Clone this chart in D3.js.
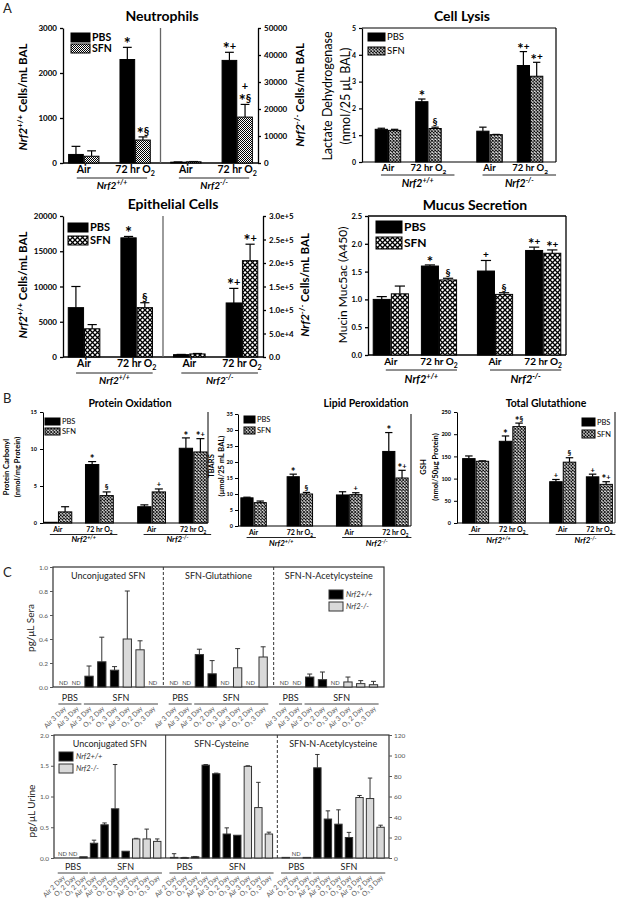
<!DOCTYPE html>
<html><head><meta charset="utf-8">
<script src="https://cdn.jsdelivr.net/npm/d3@7/dist/d3.min.js"></script>
<style>
html,body{margin:0;padding:0;background:#fff}
svg{display:block;font-family:Lato,'Open Sans','DejaVu Sans',sans-serif}
</style></head><body>
<svg id="fig" width="619" height="900"></svg>
<script>
// ================= DATA =================
const genotypes = ["Nrf2+/+", "Nrf2-/-"];
const exposures = ["Air", "72 hr O2"];
const treatments = ["PBS", "SFN"];
// each series ordered: [Nrf2+/+ Air, Nrf2+/+ O2, Nrf2-/- Air, Nrf2-/- O2]

const neutroPBS = [190, 2300, 300, 38000];
const neutroPBSErr = [370, 2570, 400, 41000];
const neutroSFN = [150, 510, 450, 17000];
const neutroSFNErr = [270, 580, 550, 21700];
const neutroAnnPBS = ["", "*", "", "*+"];
const neutroAnnSFN = ["", "*§", "", "+\n*§"];
const neutroTicksL = [0, 1000, 2000, 3000];
const neutroTicksR = [0, 10000, 20000, 30000, 40000, 50000];

const lysisPBS = [1.22, 2.25, 1.15, 3.6];
const lysisPBSErr = [1.26, 2.35, 1.3, 4.12];
const lysisSFN = [1.18, 1.25, 1.02, 3.2];
const lysisSFNErr = [1.22, 1.3, 1.03, 3.72];
const lysisAnnPBS = ["", "*", "", "*+"];
const lysisAnnSFN = ["", "§", "", "*+"];
const lysisTicks = [0, 1, 2, 3, 4, 5];

const epiPBS = [7000, 16900, 5000, 115000];
const epiPBSErr = [10000, 17100, 5500, 146000];
const epiSFN = [4000, 7000, 6500, 205000];
const epiSFNErr = [4600, 7700, 7500, 240000];
const epiAnnPBS = ["", "*", "", "*+"];
const epiAnnSFN = ["", "§", "", "*+"];
const epiTicksL = [0, 5000, 10000, 15000, 20000];
const epiTicksR = [0, 50000, 100000, 150000, 200000, 250000, 300000];

const mucusPBS = [1.0, 1.6, 1.51, 1.88];
const mucusPBSErr = [1.05, 1.62, 1.7, 1.94];
const mucusSFN = [1.1, 1.35, 1.09, 1.83];
const mucusSFNErr = [1.24, 1.38, 1.12, 1.89];
const mucusAnnPBS = ["", "*", "+", "*+"];
const mucusAnnSFN = ["", "§", "§", "*+"];
const mucusTicks = [0, 0.5, 1.0, 1.5, 2.0, 2.5];

const protPBS = [0.1, 7.9, 2.2, 10.1];
const protPBSErr = [0.1, 8.3, 2.45, 11.5];
const protSFN = [1.5, 3.7, 4.2, 9.6];
const protSFNErr = [2.2, 4.2, 4.6, 11.4];
const protAnnPBS = ["", "*", "", "*"];
const protAnnSFN = ["", "§", "+", "*+"];
const protTicks = [0, 5, 10, 15];

const lipidPBS = [8.8, 15.4, 9.7, 23.3];
const lipidPBSErr = [9.0, 16.2, 10.7, 29.2];
const lipidSFN = [7.3, 10.0, 9.8, 15.0];
const lipidSFNErr = [7.8, 10.5, 10.4, 17.4];
const lipidAnnPBS = ["", "*", "", "*"];
const lipidAnnSFN = ["", "§", "+", "*+"];
const lipidTicks = [0, 5, 10, 15, 20, 25, 30, 35];

const gshPBS = [145, 184, 93, 104];
const gshPBSErr = [151, 196, 98, 110];
const gshSFN = [139, 217, 137, 87];
const gshSFNErr = [140, 225, 147, 93];
const gshAnnPBS = ["", "*", "+", "+"];
const gshAnnSFN = ["", "*§", "§", "*+"];
const gshTicks = [0, 50, 100, 150, 200, 250];

// Panel C
const seraSubpanels = ["Unconjugated SFN", "SFN-Glutathione", "SFN-N-Acetylcysteine"];
const seraCategories = ["Air 3 Day", "Air 3 Day", "Air 3 Day", "O₂ 2 Day", "O₂ 3 Day", "Air 3 Day", "O₂ 2 Day", "O₂ 3 Day"];
const seraGenotype = ["Nrf2+/+", "Nrf2-/-", "Nrf2+/+", "Nrf2+/+", "Nrf2+/+", "Nrf2-/-", "Nrf2-/-", "Nrf2-/-"];
const seraTreatment = ["PBS", "PBS", "SFN", "SFN", "SFN", "SFN", "SFN", "SFN"];
const seraUnconj = [null, null, 0.09, 0.21, 0.14, 0.40, 0.31, null];
const seraUnconjErr = [null, null, 0.175, 0.415, 0.17, 0.80, 0.385, null];
const seraGSH = [null, null, 0.27, 0.11, null, 0.16, null, 0.25];
const seraGSHErr = [null, null, 0.315, 0.22, null, 0.32, null, 0.335];
const seraNAC = [null, null, 0.083, 0.061, null, 0.042, 0.028, 0.019];
const seraNACErr = [null, null, 0.108, 0.125, null, 0.083, 0.053, 0.047];
const seraTicks = [0, 0.2, 0.4, 0.6, 0.8, 1.0];

const urineSubpanels = ["Unconjugated SFN", "SFN-Cysteine", "SFN-N-Acetylcysteine"];
const urineCategories = ["Air 2 Day", "O₂ 2 Day", "O₂ 2 Day", "Air 2 Day", "Air 3 Day", "O₂ 2 Day", "O₂ 3 Day", "Air 3 Day", "O₂ 2 Day", "O₂ 3 Day"];
const urineGenotype = ["Nrf2+/+", "Nrf2+/+", "Nrf2+/+", "Nrf2+/+", "Nrf2+/+", "Nrf2+/+", "Nrf2+/+", "Nrf2-/-", "Nrf2-/-", "Nrf2-/-"];
const urineTreatment = ["PBS", "PBS", "PBS", "SFN", "SFN", "SFN", "SFN", "SFN", "SFN", "SFN"];
const urineUnconj = [null, null, 0.02, 0.24, 0.54, 0.80, 0.11, 0.31, 0.31, 0.27];
const urineUnconjErr = [null, null, 0.02, 0.29, 0.57, 1.52, 0.11, 0.32, 0.47, 0.31];
const urineCys = [0.01, 0.005, 0.02, 1.51, 1.37, 0.39, 0.37, 1.49, 0.82, 0.39];
const urineCysErr = [0.07, 0.01, 0.025, 1.52, 1.38, 0.49, 0.37, 1.50, 1.23, 0.42];
const urineNAC = [0.6, null, 0.6, 88, 38, 33, 20, 59, 58, 30];
const urineNACErr = [0.6, null, 0.6, 101, 46, 47, 25, 61, 78, 32];
const urineTicksL = [0, 0.5, 1.0, 1.5, 2.0];
const urineTicksR = [0, 20, 40, 60, 80, 100, 120];

// ================= DRAWING =================
const svg = d3.select("#fig");
const defs = svg.append("defs");

function makeHatch(id, s, sw) {
  const p = defs.append("pattern").attr("id", id).attr("patternUnits", "userSpaceOnUse")
    .attr("width", s).attr("height", s);
  p.append("rect").attr("width", s).attr("height", s).attr("fill", "#fff");
  p.append("path").attr("d", `M0,0L${s},${s}M${s},0L0,${s}`).attr("stroke", "#000").attr("stroke-width", sw);
}
function makeChecker(id) {
  const p = defs.append("pattern").attr("id", id).attr("patternUnits", "userSpaceOnUse")
    .attr("width", 2).attr("height", 2);
  p.append("rect").attr("width", 2).attr("height", 2).attr("fill", "#fff");
  p.append("rect").attr("width", 1).attr("height", 1).attr("fill", "#000");
  p.append("rect").attr("x", 1).attr("y", 1).attr("width", 1).attr("height", 1).attr("fill", "#000");
}
makeChecker("chk");
makeHatch("h5", 5, 1.3);
makeHatch("h3", 3.2, 0.9);

function rich(t, parts, fs) {
  let shift = 0;
  parts.forEach(p => {
    const s = t.append("tspan").text(p.t);
    const target = p.sup ? -fs * 0.38 : p.sub ? fs * 0.28 : 0;
    if (target !== shift) { s.attr("dy", target - shift); shift = target; }
    if (p.sup || p.sub) s.attr("font-size", fs * 0.68);
    if (p.italic) s.attr("font-style", "italic");
  });
  return t;
}
const genoParts = gn => [{ t: "Nrf2", italic: true }, { t: gn.slice(4), sup: true, italic: true }];
const expParts = ex => ex === "Air" ? [{ t: "Air" }] : [{ t: "72 hr O" }, { t: "2", sub: true }];

function styleAxis(ax, fs, sw, color, weight) {
  ax.select(".domain").attr("stroke", color).attr("stroke-width", sw);
  ax.selectAll(".tick line").attr("stroke", color).attr("stroke-width", sw);
  ax.selectAll(".tick text").attr("font-size", fs).attr("font-weight", weight).attr("fill", color)
    .attr("font-family", "Lato,'Open Sans',sans-serif");
}

function grouped(c) {
  const g = svg.append("g");
  const xG = d3.scaleBand().domain(genotypes).range([c.x0, c.x1]).paddingInner(c.gi).paddingOuter(c.go);
  const xE = d3.scaleBand().domain(exposures).range([0, xG.bandwidth()]).paddingInner(c.ei).paddingOuter(c.eo || 0);
  const xS = d3.scaleBand().domain(treatments).range([0, xE.bandwidth()]).paddingInner(c.si);
  const yL = d3.scaleLinear().domain(c.yL.domain).range([c.yBot, c.yTop]);
  const yR = c.yR ? d3.scaleLinear().domain(c.yR.domain).range([c.yBot, c.yTop]) : yL;
  const yFor = gi => (c.yR && gi === 1) ? yR : yL;
  const ax0 = c.axX0 !== undefined ? c.axX0 : c.x0, ax1 = c.axX1 !== undefined ? c.axX1 : c.x1;

  // frame
  g.append("line").attr("x1", ax0).attr("x2", ax1).attr("y1", c.yBot).attr("y2", c.yBot).attr("stroke", "#000").attr("stroke-width", c.sw);
  if (c.right) g.append("line").attr("x1", ax1).attr("x2", ax1).attr("y1", c.yTop).attr("y2", c.yBot).attr("stroke", "#000").attr("stroke-width", c.sw);
  if (c.top) g.append("line").attr("x1", ax0).attr("x2", ax1).attr("y1", c.yTop).attr("y2", c.yTop).attr("stroke", "#000").attr("stroke-width", c.sw);
  if (c.yR) {
    const dx = xG(genotypes[1]) - xG.step() * c.gi / 2;
    g.append("line").attr("x1", dx).attr("x2", dx).attr("y1", c.yTop).attr("y2", c.yBot).attr("stroke", "#666").attr("stroke-width", 1.3);
  }

  // axes
  const axL = g.append("g").attr("transform", `translate(${ax0},0)`)
    .call(d3.axisLeft(yL).tickValues(c.yL.ticks).tickFormat(c.yL.fmt).tickSize(3).tickSizeOuter(0).tickPadding(c.tickPad || 3));
  styleAxis(axL, c.tickFs, c.sw, "#000", "bold");
  if (c.yR) {
    const axR = g.append("g").attr("transform", `translate(${ax1},0)`)
      .call(d3.axisRight(yR).tickValues(c.yR.ticks).tickFormat(c.yR.fmt).tickSize(3).tickSizeOuter(0).tickPadding(3));
    styleAxis(axR, c.tickFs, c.sw, "#000", "bold");
  }

  // bars
  const values = [c.pbs, c.sfn], errors = [c.pbsErr, c.sfnErr], anns = [c.annP, c.annS];
  treatments.forEach((t, ti) => {
    genotypes.forEach((gn, gi) => exposures.forEach((ex, ei) => {
      const k = gi * 2 + ei, y = yFor(gi);
      const v = values[ti][k], e = errors[ti][k];
      const x = xG(gn) + xE(ex) + xS(t), w = xS.bandwidth(), cx = x + w / 2;
      if (e > v) {
        g.append("line").attr("x1", cx).attr("x2", cx).attr("y1", y(v)).attr("y2", y(e)).attr("stroke", "#000").attr("stroke-width", 1.2);
        g.append("line").attr("x1", cx - w * 0.3).attr("x2", cx + w * 0.3).attr("y1", y(e)).attr("y2", y(e)).attr("stroke", "#000").attr("stroke-width", 1.2);
      }
      g.append("rect").attr("x", x).attr("y", y(v)).attr("width", w).attr("height", y(0) - y(v))
        .attr("fill", ti === 0 ? "#000" : `url(#${c.pattern})`).attr("stroke", "#000").attr("stroke-width", 1);
      const a = anns[ti][k];
      if (a) {
        const lines = a.split("\n").reverse();
        lines.forEach((ln, li) => {
          const tx = g.append("text").attr("x", cx).attr("y", y(Math.max(e, v)) - c.annGap - li * c.annLH)
            .attr("text-anchor", "middle").attr("font-weight", "bold").attr("font-size", c.annFs).attr("fill", "#000");
          let shift = 0;
          [...ln].forEach(ch => {
            const s = tx.append("tspan").text(ch);
            const target = ch === "*" ? c.annFs * 0.42 : 0;
            if (target !== shift) { s.attr("dy", target - shift); shift = target; }
            if (ch === "*") s.attr("font-size", c.annFs * 1.5);
          });
        });
      }
    }));
  });

  // x labels
  genotypes.forEach(gn => {
    const cA = xG(gn) + xE("Air") + xE.bandwidth() / 2;
    const cO = xG(gn) + xE(exposures[1]) + xE.bandwidth() / 2;
    exposures.forEach((ex, ei) => {
      const t = g.append("text").attr("x", ei === 0 ? cA : cO).attr("y", c.airY)
        .attr("text-anchor", "middle").attr("font-weight", "bold").attr("font-size", c.labFs);
      rich(t, expParts(ex), c.labFs);
    });
    const l0 = cA - c.ulL, l1 = cO + c.ulR;
    g.append("line").attr("x1", l0).attr("x2", l1).attr("y1", c.lineY).attr("y2", c.lineY).attr("stroke", "#222").attr("stroke-width", 1);
    const t = g.append("text").attr("x", (l0 + l1) / 2).attr("y", c.genoY)
      .attr("text-anchor", "middle").attr("font-weight", "bold").attr("font-size", c.genoFs);
    rich(t, genoParts(gn), c.genoFs);
  });

  // legend
  treatments.forEach((t, ti) => {
    const ly = c.leg.y + ti * c.leg.gap;
    g.append("rect").attr("x", c.leg.x).attr("y", ly).attr("width", c.leg.w).attr("height", c.leg.h)
      .attr("fill", ti === 0 ? "#000" : `url(#${c.pattern})`).attr("stroke", "#000").attr("stroke-width", 1);
    g.append("text").attr("x", c.leg.x + c.leg.w + 2).attr("y", ly + c.leg.h / 2).attr("dy", "0.35em")
      .attr("font-size", c.leg.fs).attr("font-weight", c.leg.weight).text(t);
  });

  // title
  g.append("text").attr("x", c.title.x).attr("y", c.title.y).attr("text-anchor", "middle")
    .attr("font-weight", "bold").attr("font-size", c.title.fs).text(c.title.t);

  // y labels
  c.ylabels.forEach(yl => {
    const t = g.append("text").attr("transform", `translate(${yl.x},${yl.y}) rotate(-90)`)
      .attr("text-anchor", "middle").attr("font-weight", yl.weight).attr("font-size", yl.fs);
    rich(t, yl.parts, yl.fs);
  });
}

const fmtSci = v => v === 0 ? "0.0" : (() => { const e = Math.floor(Math.log10(v)); return (v / Math.pow(10, e)).toFixed(1) + "e+" + e; })();

// ---------- Panel A ----------
grouped({
  x0: 63, x1: 258, yTop: 28, yBot: 163, gi: 0.2, go: 0.055, ei: 0.41, si: 0.06, sw: 1.3,
  yL: { domain: [0, 3000], ticks: neutroTicksL, fmt: d3.format("d") },
  yR: { domain: [0, 50000], ticks: neutroTicksR, fmt: d3.format("d") },
  tickFs: 8, pattern: "chk",
  pbs: neutroPBS, pbsErr: neutroPBSErr, sfn: neutroSFN, sfnErr: neutroSFNErr, annP: neutroAnnPBS, annS: neutroAnnSFN,
  annFs: 11, annGap: 2, annLH: 12,
  airY: 173, lineY: 178, genoY: 189, labFs: 10.5, genoFs: 10, ulL: 7, ulR: 12,
  leg: { x: 71, y: 33, w: 19, h: 9, gap: 11, fs: 10.5, weight: "bold" },
  title: { t: "Neutrophils", x: 162, y: 21, fs: 14 },
  ylabels: [
    { x: 27, y: 97, fs: 11.5, weight: "bold", parts: [{ t: "Nrf2", italic: true }, { t: "+/+", sup: true }, { t: " Cells/mL BAL" }] },
    { x: 304, y: 95, fs: 11.5, weight: "bold", parts: [{ t: "Nrf2", italic: true }, { t: "-/-", sup: true }, { t: " Cells/mL BAL" }] }
  ]
});

grouped({
  x0: 362, x1: 556, yTop: 28, yBot: 162, gi: 0.35, go: 0.13, ei: 0.37, si: 0.08, sw: 1.2, right: true, top: true,
  yL: { domain: [0, 5], ticks: lysisTicks, fmt: d3.format("d") },
  tickFs: 7, pattern: "h3",
  pbs: lysisPBS, pbsErr: lysisPBSErr, sfn: lysisSFN, sfnErr: lysisSFNErr, annP: lysisAnnPBS, annS: lysisAnnSFN,
  annFs: 10, annGap: 2, annLH: 10,
  airY: 171, lineY: 175, genoY: 187, labFs: 9.5, genoFs: 10.5, ulL: 7, ulR: 26,
  leg: { x: 368, y: 33, w: 17, h: 8, gap: 14, fs: 9.5, weight: "normal" },
  title: { t: "Cell Lysis", x: 462, y: 21, fs: 14 },
  ylabels: [
    { x: 332, y: 96, fs: 12.5, weight: "normal", parts: [{ t: "Lactate Dehydrogenase" }] },
    { x: 350, y: 96, fs: 12.5, weight: "normal", parts: [{ t: "(nmol/25 μL BAL)" }] }
  ]
});

grouped({
  x0: 63, x1: 263, yTop: 216, yBot: 357, gi: 0.2, go: 0.05, ei: 0.4, si: 0.06, sw: 1.3,
  yL: { domain: [0, 20000], ticks: epiTicksL, fmt: d3.format("d") },
  yR: { domain: [0, 300000], ticks: epiTicksR, fmt: fmtSci },
  tickFs: 8, pattern: "h5",
  pbs: epiPBS, pbsErr: epiPBSErr, sfn: epiSFN, sfnErr: epiSFNErr, annP: epiAnnPBS, annS: epiAnnSFN,
  annFs: 11, annGap: 2, annLH: 10,
  airY: 367, lineY: 373, genoY: 384, labFs: 10.5, genoFs: 10, ulL: 8, ulR: 16,
  leg: { x: 68, y: 223, w: 20, h: 9, gap: 13, fs: 11, weight: "bold" },
  title: { t: "Epithelial Cells", x: 173, y: 209, fs: 14 },
  ylabels: [
    { x: 27, y: 285, fs: 11.5, weight: "bold", parts: [{ t: "Nrf2", italic: true }, { t: "+/+", sup: true }, { t: " Cells/mL BAL" }] },
    { x: 309, y: 285, fs: 11.5, weight: "bold", parts: [{ t: "Nrf2", italic: true }, { t: "-/-", sup: true }, { t: " Cells/mL BAL" }] }
  ]
});

grouped({
  x0: 368, x1: 566, yTop: 216, yBot: 355, gi: 0.2, go: 0.05, ei: 0.27, si: 0.06, sw: 1.3, right: true, top: true,
  yL: { domain: [0, 2.5], ticks: mucusTicks, fmt: d3.format(".1f") },
  tickFs: 7.5, pattern: "h5",
  pbs: mucusPBS, pbsErr: mucusPBSErr, sfn: mucusSFN, sfnErr: mucusSFNErr, annP: mucusAnnPBS, annS: mucusAnnSFN,
  annFs: 10, annGap: 2, annLH: 10,
  airY: 365, lineY: 370, genoY: 383, labFs: 10, genoFs: 11, ulL: 5, ulR: 18,
  leg: { x: 376, y: 221, w: 26, h: 12, gap: 16, fs: 12, weight: "bold" },
  title: { t: "Mucus Secretion", x: 475, y: 210, fs: 14 },
  ylabels: [
    { x: 347, y: 285, fs: 12, weight: "normal", parts: [{ t: "Mucin Muc5ac (A450)" }] }
  ]
});

// ---------- Panel B ----------
grouped({
  x0: 43, x1: 208, yTop: 412, yBot: 523, gi: 0.26, go: 0.01, ei: 0.33, si: 0.08, sw: 1, right: true,
  yL: { domain: [0, 15], ticks: protTicks, fmt: d3.format("d") },
  tickFs: 5.5, pattern: "h3",
  pbs: protPBS, pbsErr: protPBSErr, sfn: protSFN, sfnErr: protSFNErr, annP: protAnnPBS, annS: protAnnSFN,
  annFs: 7.5, annGap: 1.5, annLH: 8,
  airY: 532, lineY: 534.5, genoY: 542, labFs: 7, genoFs: 8, ulL: 8, ulR: 18,
  leg: { x: 45, y: 418, w: 15, h: 7, gap: 10, fs: 7.5, weight: "normal" },
  title: { t: "Protein Oxidation", x: 130, y: 407, fs: 10.5 },
  ylabels: [
    { x: 9, y: 467, fs: 7.5, weight: "bold", parts: [{ t: "Protein Carbonyl" }] },
    { x: 20, y: 467, fs: 7.5, weight: "bold", parts: [{ t: "(nmol/mg Protein)" }] }
  ]
});

grouped({
  x0: 238, x1: 411, yTop: 414, yBot: 526, gi: 0.25, go: 0.03, ei: 0.45, si: 0.08, sw: 1, right: true, tickPad: 2,
  yL: { domain: [0, 35], ticks: lipidTicks, fmt: d3.format("d") },
  tickFs: 5.5, pattern: "h3",
  pbs: lipidPBS, pbsErr: lipidPBSErr, sfn: lipidSFN, sfnErr: lipidSFNErr, annP: lipidAnnPBS, annS: lipidAnnSFN,
  annFs: 7.5, annGap: 1.5, annLH: 8,
  airY: 535, lineY: 537.5, genoY: 546, labFs: 7, genoFs: 8, ulL: 7, ulR: 16,
  leg: { x: 244, y: 416, w: 11, h: 7, gap: 11, fs: 7.5, weight: "normal" },
  title: { t: "Lipid Peroxidation", x: 366, y: 407, fs: 10.5 },
  ylabels: [
    { x: 214, y: 466, fs: 7.5, weight: "bold", parts: [{ t: "TBARS" }] },
    { x: 224, y: 466, fs: 7.5, weight: "bold", parts: [{ t: "(μmol/25 mL BAL)" }] }
  ]
});

grouped({
  x0: 460, x1: 615, axX0: 457, yTop: 412, yBot: 523, gi: 0.28, go: 0.03, ei: 0.29, si: 0.08, sw: 1, right: true,
  yL: { domain: [0, 250], ticks: gshTicks, fmt: d3.format("d") },
  tickFs: 5.5, pattern: "h3",
  pbs: gshPBS, pbsErr: gshPBSErr, sfn: gshSFN, sfnErr: gshSFNErr, annP: gshAnnPBS, annS: gshAnnSFN,
  annFs: 7.5, annGap: 1.5, annLH: 8,
  airY: 532, lineY: 534.5, genoY: 543, labFs: 7, genoFs: 8, ulL: 7, ulR: 16,
  leg: { x: 582, y: 418, w: 13, h: 8, gap: 12, fs: 7.5, weight: "normal" },
  title: { t: "Total Glutathione", x: 546, y: 407, fs: 10.5 },
  ylabels: [
    { x: 426, y: 467, fs: 7.5, weight: "bold", parts: [{ t: "GSH" }] },
    { x: 438, y: 467, fs: 7.5, weight: "bold", parts: [{ t: "(nmol/50μg Protein)" }] }
  ]
});

// ---------- Panel C ----------
function panelC(c) {
  const g = svg.append("g");
  const xP = d3.scaleBand().domain(c.subs).range([c.x0, c.x1]);
  const xC = d3.scaleBand().domain(d3.range(c.cats.length)).range([0, xP.bandwidth()]).paddingInner(c.pi).paddingOuter(c.po);
  const yL = d3.scaleLinear().domain(c.yDomain).range([c.yBot, c.yTop]);
  const yR = c.yRDomain ? d3.scaleLinear().domain(c.yRDomain).range([c.yBot, c.yTop]) : null;

  g.append("rect").attr("x", c.x0).attr("y", c.yTop).attr("width", c.x1 - c.x0).attr("height", c.yBot - c.yTop)
    .attr("fill", "none").attr("stroke", "#333").attr("stroke-width", 1.2);
  c.subs.slice(1).forEach((s, i) => {
    g.append("line").attr("x1", xP(s)).attr("x2", xP(s)).attr("y1", c.yTop).attr("y2", c.yBot)
      .attr("stroke", "#333").attr("stroke-width", 1).attr("stroke-dasharray", c.dash[i] ? "3,2" : null);
  });
  const axL = g.append("g").attr("transform", `translate(${c.x0},0)`)
    .call(d3.axisLeft(yL).tickValues(c.ticks).tickFormat(d3.format(".1f")).tickSize(3).tickSizeOuter(0).tickPadding(2));
  styleAxis(axL, 6.5, 1, "#555", "normal");
  axL.select(".domain").remove();
  if (yR) {
    const axR = g.append("g").attr("transform", `translate(${c.x1},0)`)
      .call(d3.axisRight(yR).tickValues(c.ticksR).tickFormat(d3.format("d")).tickSize(3).tickSizeOuter(0).tickPadding(2));
    styleAxis(axR, 6.5, 1, "#555", "normal");
    axR.select(".domain").remove();
  }

  c.subs.forEach((s, si) => {
    const y = (yR && si === c.rightSub) ? yR : yL;
    const vals = c.values[si], errs = c.errors[si];
    g.append("text").attr("x", xP(s) + xP.bandwidth() / 2).attr("y", c.yTop + 12).attr("text-anchor", "middle")
      .attr("font-size", 9).attr("fill", "#222").text(s);
    c.cats.forEach((cat, i) => {
      const x = xP(s) + xC(i), w = xC.bandwidth(), cx = x + w / 2;
      if (vals[i] == null) {
        g.append("text").attr("x", cx).attr("y", c.yBot - 2).attr("text-anchor", "middle")
          .attr("font-size", 5.8).attr("fill", "#444").text("ND");
      } else {
        const v = vals[i], e = errs[i];
        if (e > v) {
          g.append("line").attr("x1", cx).attr("x2", cx).attr("y1", y(v)).attr("y2", y(e)).attr("stroke", "#333").attr("stroke-width", 1);
          g.append("line").attr("x1", cx - w * 0.3).attr("x2", cx + w * 0.3).attr("y1", y(e)).attr("y2", y(e)).attr("stroke", "#333").attr("stroke-width", 1);
        }
        g.append("rect").attr("x", x).attr("y", y(v)).attr("width", w).attr("height", Math.max(0.6, y(0) - y(v)))
          .attr("fill", c.geno[i] === "Nrf2+/+" ? "#000" : "#d9d9d9").attr("stroke", "#333").attr("stroke-width", 1);
      }
      g.append("text").attr("transform", `translate(${cx + 3},${c.catY}) rotate(-45)`).attr("text-anchor", "end")
        .attr("font-size", 6.8).attr("fill", "#555").text(cat);
    });
    treatments.forEach(t => {
      const idx = c.treat.map((d, i) => d === t ? i : -1).filter(i => i >= 0);
      const a = xP(s) + xC(idx[0]) - 1, b = xP(s) + xC(idx[idx.length - 1]) + xC.bandwidth() + 1;
      g.append("line").attr("x1", a).attr("x2", b).attr("y1", c.grpLineY).attr("y2", c.grpLineY).attr("stroke", "#444").attr("stroke-width", 1);
      g.append("text").attr("x", (a + b) / 2).attr("y", c.grpY).attr("text-anchor", "middle")
        .attr("font-size", 9).attr("fill", "#222").text(t);
    });
  });

  genotypes.forEach((gn, i) => {
    const ly = c.leg.y + i * 12;
    g.append("rect").attr("x", c.leg.x).attr("y", ly).attr("width", 14).attr("height", 9)
      .attr("fill", i === 0 ? "#000" : "#d9d9d9").attr("stroke", "#333").attr("stroke-width", 1);
    g.append("text").attr("x", c.leg.x + 17).attr("y", ly + 4.5).attr("dy", "0.35em").attr("font-size", 7.5)
      .attr("font-style", "italic").attr("fill", "#333").text(gn);
  });
  g.append("text").attr("transform", `translate(${c.ylab.x},${c.ylab.y}) rotate(-90)`)
    .attr("text-anchor", "middle").attr("font-size", 10).attr("fill", "#222").text(c.ylab.t);
}

panelC({
  x0: 53, x1: 384, yTop: 567, yBot: 687, pi: 0.35, po: 0.5,
  subs: seraSubpanels, cats: seraCategories, geno: seraGenotype, treat: seraTreatment,
  values: [seraUnconj, seraGSH, seraNAC], errors: [seraUnconjErr, seraGSHErr, seraNACErr],
  yDomain: [0, 1.0], ticks: seraTicks, dash: [true, true],
  grpY: 701, grpLineY: 704, catY: 709,
  leg: { x: 329, y: 590 }, ylab: { x: 34, y: 628, t: "pg/μL Sera" }
});

panelC({
  x0: 54, x1: 389, yTop: 735, yBot: 858, pi: 0.3, po: 0.45,
  subs: urineSubpanels, cats: urineCategories, geno: urineGenotype, treat: urineTreatment,
  values: [urineUnconj, urineCys, urineNAC], errors: [urineUnconjErr, urineCysErr, urineNACErr],
  yDomain: [0, 2.0], ticks: urineTicksL, yRDomain: [0, 120], ticksR: urineTicksR, rightSub: 2, dash: [false, true],
  grpY: 870, grpLineY: 873, catY: 878,
  leg: { x: 59, y: 752 }, ylab: { x: 35, y: 811, t: "pg/μL Urine" }
});

// panel letters
[["A", 3, 13], ["B", 3, 403], ["C", 3, 577]].forEach(([l, x, y]) =>
  svg.append("text").attr("x", x).attr("y", y).attr("font-size", 13).attr("fill", "#222").text(l));
</script>
</body></html>
